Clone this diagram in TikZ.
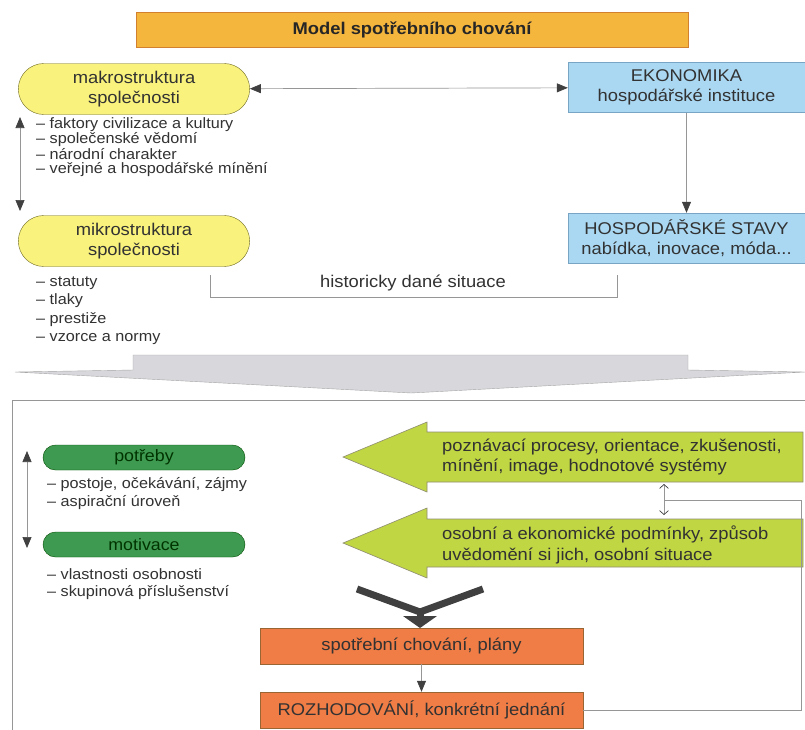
\documentclass[tikz,border=0pt]{standalone}
\usepackage{fontspec}
\setmainfont[FakeStretch=1.08]{Liberation Sans}
\usetikzlibrary{arrows.meta,positioning,shapes.misc}

\definecolor{titleorange}{RGB}{245,182,62}
\definecolor{ovalyellow}{RGB}{249,242,124}
\definecolor{boxblue}{RGB}{170,216,242}
\definecolor{blueline}{RGB}{120,165,195}
\definecolor{pillgreen}{RGB}{62,154,80}
\definecolor{arrowgreen}{RGB}{192,214,66}
\definecolor{boxred}{RGB}{240,124,70}
\definecolor{bigarrow}{RGB}{216,216,220}
\definecolor{linegray}{RGB}{150,150,150}
\definecolor{tipgray}{RGB}{64,64,64}
\definecolor{txtgray}{RGB}{50,50,50}

\tikzset{
  txt/.style={text=txtgray, inner sep=0pt},
  mainfont/.style={font=\fontsize{17}{20.5}\selectfont},
  listfont/.style={font=\fontsize{15}{#1}\selectfont, align=left, anchor=west, txt},
  oval/.style={rounded rectangle, draw=olive!70!black, fill=ovalyellow, minimum width=238pt,
    minimum height=51pt, align=center, mainfont, text=txtgray},
  bluebox/.style={draw=blueline, fill=boxblue, minimum width=237pt, minimum height=50pt,
    align=center, mainfont, text=txtgray},
  pill/.style={rounded rectangle, draw=green!30!black, fill=pillgreen, minimum width=202pt,
    minimum height=25pt, inner sep=0pt, font=\fontsize{16.5}{18}\selectfont, text=black!80!green},
  redbox/.style={draw=brown!80!black, fill=boxred, minimum width=323pt, minimum height=36pt,
    mainfont, text=txtgray},
  greenarrow/.style={draw=gray!80!olive, fill=arrowgreen, line width=0.6pt},
  conn/.style={draw=linegray, line width=0.7pt},
  tip/.style={-{Triangle[length=11pt,width=9pt,color=tipgray]}},
  tips/.style={{Triangle[length=11pt,width=9pt,color=tipgray]}-{Triangle[length=11pt,width=9pt,color=tipgray]}}
}

\begin{document}
\begin{tikzpicture}[x=1pt,y=-1pt]
  \useasboundingbox (0,0) rectangle (805,729);
  \fill[white] (0,0) rectangle (805,729);

  % upper part
  \node[draw=brown!70!orange, fill=titleorange, minimum width=552pt, minimum height=35pt,
    font=\bfseries\fontsize{17}{20}\selectfont, text=black!85] (title) at (412,29.5) {Model spotřebního chování};
  \node[oval] (makro) at (134,89) {makrostruktura\\společnosti};
  \node[oval] (mikro) at (134,241) {mikrostruktura\\společnosti};
  \node[bluebox] (ekon) at (686.5,87.5) {EKONOMIKA\\hospodářské instituce};
  \node[bluebox] (hosp) at (686.5,238) {HOSPODÁŘSKÉ STAVY\\nabídka, inovace, móda...};
  \node[listfont=14] (makrolist) at (36,147) {– faktory civilizace a kultury\\– společenské vědomí\\– národní charakter\\– veřejné a hospodářské mínění};
  \node[listfont=18.5] (mikrolist) at (36,310.5) {– statuty\\– tlaky\\– prestiže\\– vzorce a normy};
  \node[txt, mainfont] (hist) at (413,283) {historicky dané situace};

  \draw[conn, tips] (makro) -- (ekon);
  \draw[conn, tip] (ekon) -- (hosp);
  \coordinate (lt) at (20,117);
  \coordinate (lb) at (20,211);
  \draw[conn, tips] (lt) -- (lb);
  \coordinate (hl) at (210,275);
  \coordinate (hr) at (617,275);
  \draw[conn] (hl) -- (210,297) -- (617,297) -- (hr);

  % big grey arrow
  \draw[draw=gray!70, fill=bigarrow] (133,355) -- (688,355) -- (688,370) -- (805,372)
    -- (411,393) -- (15,372) -- (133,370) -- cycle;

  % lower part
  \draw[draw=linegray, line width=0.8pt] (12,740) -- (12,400) -- (812,400);

  \node[pill] (potreby) at (144,457.5) {potřeby};
  \node[pill] (motiv) at (144,544.5) {motivace};
  \node[listfont=17.5] (potrlist) at (47,493.5) {– postoje, očekávání, zájmy\\– aspirační úroveň};
  \node[listfont=17.5] (motivlist) at (47,584) {– vlastnosti osobnosti\\– skupinová příslušenství};
  \coordinate (pt) at (27,451);
  \coordinate (pb) at (27,548);
  \draw[conn, tips] (pt) -- (pb);

  \draw[greenarrow] (803,432) -- (427,432) -- (427,422) -- (343,457) -- (427,492)
    -- (427,482) -- (803,482) -- cycle;
  \draw[greenarrow] (803,519) -- (427,519) -- (427,508) -- (343,543) -- (427,578)
    -- (427,567) -- (803,567) -- cycle;
  \node[listfont=20.5, font=\fontsize{17}{20.5}\selectfont] (poznani) at (442,457) {poznávací procesy, orientace, zkušenosti,\\mínění, image, hodnotové systémy};
  \node[listfont=20.5, font=\fontsize{17}{20.5}\selectfont] (podminky) at (442,545) {osobní a ekonomické podmínky, způsob\\uvědomění si jich, osobní situace};

  \node[redbox] (spotr) at (421.5,646) {spotřební chování, plány};
  \node[redbox] (rozh) at (421.5,710) {ROZHODOVÁNÍ, konkrétní jednání};
  \draw[conn, tip] (spotr) -- (rozh);

  \coordinate (ga) at (664,484);
  \coordinate (gb) at (664,515);
  \draw[conn, {Straight Barb[length=4pt,width=9pt,color=tipgray]}-{Straight Barb[length=4pt,width=9pt,color=tipgray]}] (ga) -- (gb);
  \draw[conn] (rozh.east) -- (801,710) -- (801,500) -- (664,500);

  % merging arrow
  \draw[tipgray, line width=7pt, line join=miter] (357,589) -- (420,612) -- (483,589);
  \draw[tipgray, line width=7pt] (420,609) -- (420,619);
  \fill[tipgray] (403,616) -- (437,616) -- (420,628) -- cycle;
\end{tikzpicture}
\end{document}
